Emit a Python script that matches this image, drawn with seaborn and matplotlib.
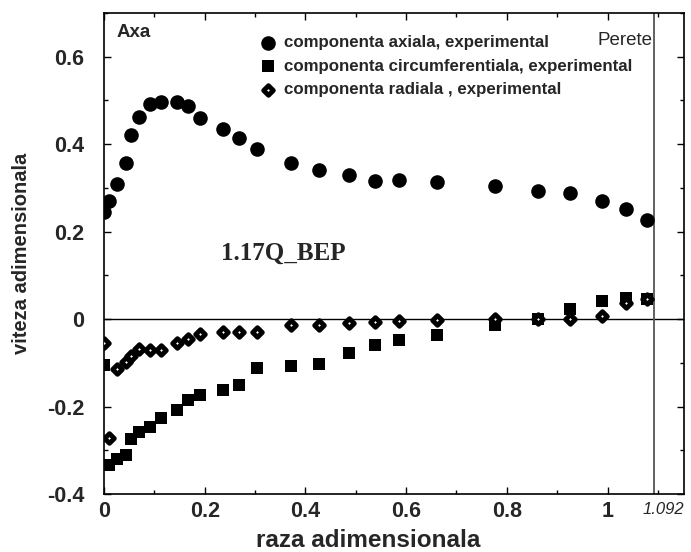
import matplotlib
matplotlib.use("Agg")
import matplotlib.pyplot as plt
import seaborn as sns
import pandas as pd
from matplotlib.ticker import MultipleLocator

# ---- data ----
raza = [0.0, 0.009, 0.025, 0.043, 0.054, 0.069, 0.092, 0.114, 0.144, 0.166,
        0.191, 0.236, 0.268, 0.303, 0.372, 0.427, 0.487, 0.538, 0.586, 0.662,
        0.776, 0.861, 0.925, 0.988, 1.036, 1.078]
axiala = [0.244, 0.271, 0.310, 0.357, 0.420, 0.462, 0.491, 0.496, 0.496, 0.487,
          0.460, 0.435, 0.415, 0.390, 0.357, 0.340, 0.329, 0.317, 0.318, 0.313,
          0.304, 0.294, 0.289, 0.270, 0.252, 0.226]
circumferentiala = [-0.104, -0.333, -0.321, -0.310, -0.274, -0.258, -0.247, -0.225,
                    -0.207, -0.184, -0.173, -0.161, -0.151, -0.112, -0.108, -0.103,
                    -0.077, -0.060, -0.047, -0.037, -0.013, 0.000, 0.023, 0.042,
                    0.048, 0.047]
radiala = [-0.055, -0.272, -0.113, -0.099, -0.085, -0.068, -0.070, -0.070, -0.055,
           -0.045, -0.034, -0.029, -0.029, -0.029, -0.014, -0.013, -0.009, -0.006,
           -0.005, -0.001, 0.000, 0.000, 0.000, 0.008, 0.037, 0.047]
labels = ["componenta axiala, experimental",
          "componenta circumferentiala, experimental",
          "componenta radiala , experimental"]
x_ticks = [0, 0.2, 0.4, 0.6, 0.8, 1.0]
x_ticklabels = ["0", "0.2", "0.4", "0.6", "0.8", "1"]
y_ticks = [-0.4, -0.2, 0, 0.2, 0.4, 0.6]
y_ticklabels = ["-0.4", "-0.2", "0", "0.2", "0.4", "0.6"]
perete_x = 1.092

df = pd.DataFrame({"raza": raza, "axiala": axiala,
                   "circ": circumferentiala, "radiala": radiala})

sns.set_style("ticks")
plt.rcParams["font.family"] = ["Liberation Sans", "DejaVu Sans"]

fig = plt.figure(figsize=(6.91, 5.52), dpi=100)
ax = fig.add_axes([0.1505, 0.105, 0.8395, 0.8714])

ax.axhline(0, color="black", lw=1.0, zorder=1)
ax.axvline(perete_x, color="#555555", lw=1.3, zorder=1)

sns.scatterplot(data=df, x="raza", y="axiala", ax=ax, marker="o", s=110,
                color="black", edgecolor="black", linewidth=0, label=labels[0], zorder=3)
sns.scatterplot(data=df, x="raza", y="circ", ax=ax, marker="s", s=74,
                color="black", edgecolor="black", linewidth=0, label=labels[1], zorder=3)
sns.scatterplot(data=df, x="raza", y="radiala", ax=ax, marker="D", s=24,
                facecolor="white", edgecolor="black", linewidth=3.5, label=labels[2], zorder=4)

ax.set_xlim(0, 1.152)
ax.set_ylim(-0.4, 0.7)
ax.set_xticks(x_ticks)
ax.set_xticklabels(x_ticklabels)
ax.set_yticks(y_ticks)
ax.set_yticklabels(y_ticklabels)
ax.xaxis.set_minor_locator(MultipleLocator(0.1))
ax.yaxis.set_minor_locator(MultipleLocator(0.1))
ax.tick_params(which="both", direction="in", top=True, right=True, color="black", width=1.0)
ax.tick_params(which="major", length=5, labelsize=15.5)
ax.tick_params(which="minor", length=3)
ax.tick_params(axis="x", which="major", pad=5)
ax.tick_params(axis="y", which="major", pad=14)
for lab in ax.get_xticklabels() + ax.get_yticklabels():
    lab.set_fontweight("bold")
for sp in ax.spines.values():
    sp.set_linewidth(1.2)
    sp.set_color("black")

ax.set_xlabel("raza adimensionala", fontsize=17.5, fontweight="bold")
ax.set_ylabel("viteza adimensionala", fontsize=14.5, fontweight="bold")
ax.xaxis.set_label_coords(0.455, -0.072)
ax.yaxis.set_label_coords(-0.125, 0.5)

leg = ax.legend(loc="upper left", bbox_to_anchor=(0.268, 0.954), frameon=False,
                fontsize=12.2, handlelength=1.0, handletextpad=0.45,
                labelspacing=0.5, borderpad=0, borderaxespad=0)
for t in leg.get_texts():
    t.set_fontweight("bold")

ax.text(0.022, 0.977, "Axa", transform=ax.transAxes, fontsize=13.5,
        fontweight="bold", ha="left", va="top")
ax.text(1.090, 0.960, "Perete", transform=ax.get_xaxis_transform(),
        fontsize=13.5, ha="right", va="top")
ax.text(0.232, 0.15, "1.17Q_BEP", fontsize=18, fontweight="bold",
        family=["Liberation Serif", "DejaVu Serif"], ha="left", va="center")
ax.annotate("1.092", xy=(perete_x, 0), xycoords=("data", "axes fraction"),
            xytext=(-8, -6), textcoords="offset points", ha="left", va="top",
            fontsize=12, fontstyle="italic")

fig.savefig("out.png", dpi=100)
